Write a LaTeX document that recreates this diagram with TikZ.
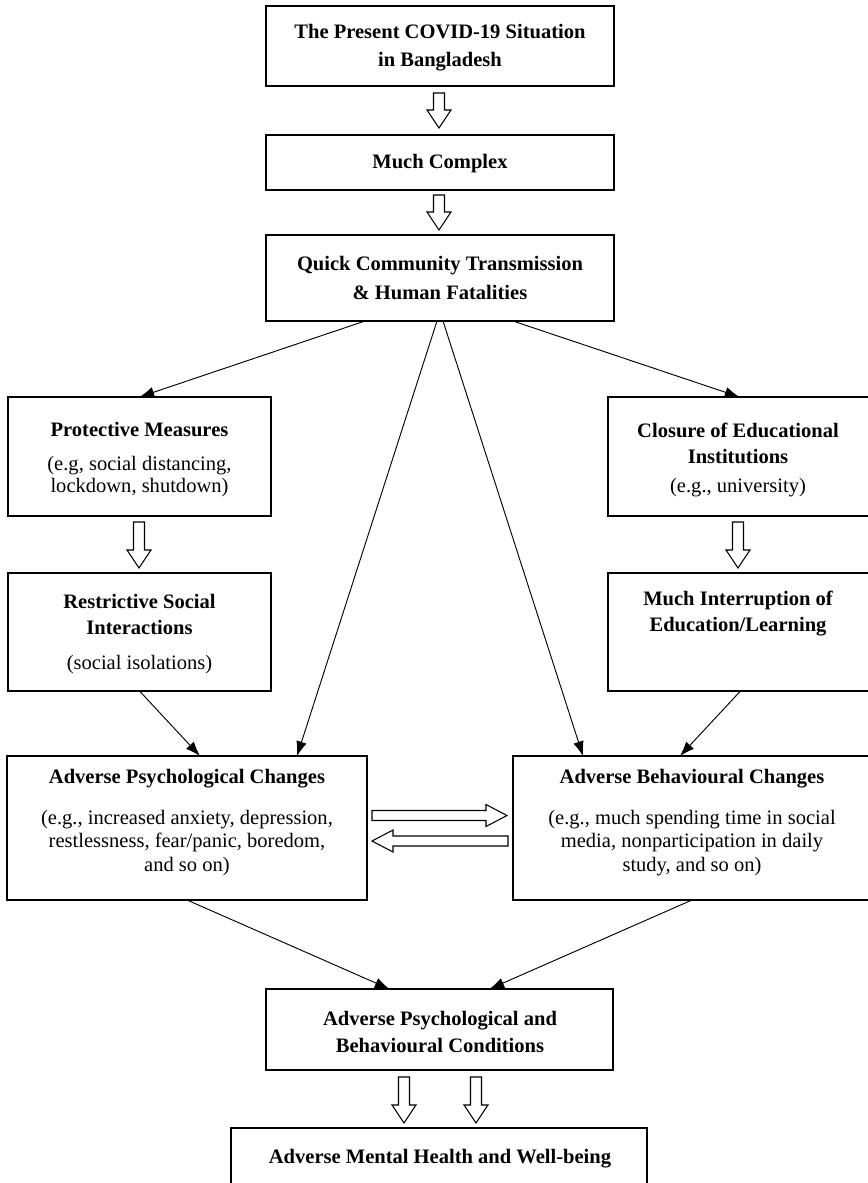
\documentclass[tikz,border=0pt]{standalone}
\usepackage{fontspec}
\setmainfont{Liberation Serif}
\usetikzlibrary{arrows.meta,calc,fit}
\newcommand{\BAdown}[3]{% x, ytop, ytip
  \draw[blockarr] (#1-5.5,#2) -- (#1+5.5,#2) -- (#1+5.5,#3-18) -- (#1+12,#3-18) -- (#1,#3) -- (#1-12,#3-18) -- (#1-5.5,#3-18) -- cycle;}
\newcommand{\BAright}[3]{% y, xtail, xtip
  \draw[blockarr] (#2,#1-5) -- (#3-21,#1-5) -- (#3-21,#1-11) -- (#3,#1) -- (#3-21,#1+11) -- (#3-21,#1+5) -- (#2,#1+5) -- cycle;}
\newcommand{\BAleft}[3]{% y, xtail, xtip
  \draw[blockarr] (#2,#1-5) -- (#3+21,#1-5) -- (#3+21,#1-11) -- (#3,#1) -- (#3+21,#1+11) -- (#3+21,#1+5) -- (#2,#1+5) -- cycle;}
\begin{document}
\begin{tikzpicture}[x=0.75pt,y=-0.75pt,
  box/.style={draw,line width=0.9pt,rectangle,inner sep=0pt,outer sep=0pt},
  ttl/.style={font=\fontsize{15.4}{#1}\selectfont\bfseries,align=center,inner sep=0pt},
  ttl/.default=20,
  sub/.style={font=\fontsize{15.4}{#1}\selectfont,align=center,inner sep=0pt},
  sub/.default=17.3,
  conn/.style={line width=0.7pt,-{Latex[length=11pt,width=8pt]}},
  blockarr/.style={draw,line width=0.8pt,fill=white,line join=miter}]
\path[use as bounding box] (0,0) rectangle (868,1183);
\clip (0,0) rectangle (868,1183);

% boxes
\node[box,fit={(266,6) (614,86)}] (b1) {};
\node[box,fit={(266,135) (614,190)}] (b2) {};
\node[box,fit={(266,235) (614,321)}] (b3) {};
\node[box,fit={(8,397) (271,516)}] (prot) {};
\node[box,fit={(608,397) (875,516)}] (clos) {};
\node[box,fit={(8,573) (271,691)}] (restr) {};
\node[box,fit={(608,573) (875,691)}] (interr) {};
\node[box,fit={(7,756) (367,900)}] (psych) {};
\node[box,fit={(513,756) (875,900)}] (behav) {};
\node[box,fit={(266,989) (613,1070)}] (cond) {};
\node[box,fit={(231,1128) (647,1195)}] (final) {};

% texts
\node[ttl=21] (b1t) at (440,48) {The Present COVID-19 Situation\\in Bangladesh};
\node[ttl] (b2t) at (440,164) {Much Complex};
\node[ttl=21.5] (b3t) at (440,278) {Quick Community Transmission\\\& Human Fatalities};
\node[ttl] (prott) at (139.5,429) {Protective Measures};
\node[sub=16.5] (prots) at (139.5,477) {(e.g, social distancing,\\lockdown, shutdown)};
\node[ttl=19.5] (restrt) at (139.5,614) {Restrictive Social\\Interactions};
\node[sub] (restrs) at (139.5,665) {(social isolations)};
\node[ttl=19.5] (clost) at (738,443) {Closure of Educational\\Institutions};
\node[sub] (closs) at (738,488) {(e.g., university)};
\node[ttl=19.5] (interrt) at (738,614) {Much Interruption of\\Education/Learning};
\node[ttl] (psycht) at (187,779) {Adverse Psychological Changes};
\node[sub=17.6] (psychs) at (187,843) {(e.g., increased anxiety, depression,\\restlessness, fear/panic, boredom,\\and so on)};
\node[ttl] (behavt) at (692,779) {Adverse Behavioural Changes};
\node[sub=17.6] (behavs) at (692,843) {(e.g., much spending time in social\\media, nonparticipation in daily\\study, and so on)};
\node[ttl=20] (condt) at (440,1032) {Adverse Psychological and\\Behavioural Conditions};
\node[ttl] (finalt) at (440,1159) {Adverse Mental Health and Well-being};

% block arrows
\BAdown{439}{93}{128}
\BAdown{439}{195}{230}
\BAdown{139}{522}{568}
\BAdown{738}{522}{568}
\BAdown{404}{1077}{1123}
\BAdown{476}{1077}{1123}
\BAright{815.5}{372}{507}
\BAleft{841}{508}{372}

% connectors
\draw[conn] ($(b3.south)+(-75,0)$) -- (prot.north);
\draw[conn] ($(b3.south)+(73,0)$) -- ($(clos.north)+(-2,0)$);
\draw[conn] ($(b3.south)+(-3,0)$) -- ($(psych.north)+(110,0)$);
\draw[conn] ($(b3.south)+(3,0)$) -- ($(behav.north)+(-111,0)$);
\draw[conn] (restr.south) -- ($(psych.north)+(13,0)$);
\draw[conn] ($(interr.south)+(-1,0)$) -- ($(behav.north)+(-14,0)$);
\draw[conn] (psych.south) -- ($(cond.north)+(-50,0)$);
\draw[conn] ($(behav.south)+(-2,0)$) -- ($(cond.north)+(50,0)$);
\end{tikzpicture}
\end{document}
